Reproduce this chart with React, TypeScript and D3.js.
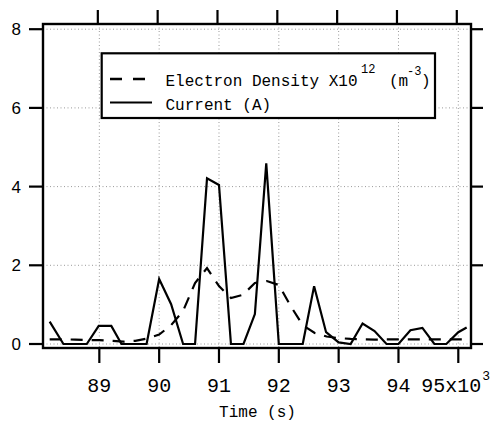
import React from "react";
import * as d3 from "d3";

const currentTime = [88.17, 88.4, 88.79, 88.99, 89.2, 89.37, 89.6, 89.79, 90.0, 90.2, 90.4, 90.6, 90.8, 91.0, 91.2, 91.41, 91.6, 91.79, 92.0, 92.2, 92.4, 92.59, 92.79, 93.0, 93.2, 93.4, 93.6, 93.8, 94.0, 94.2, 94.4, 94.6, 94.8, 95.0, 95.14];
const currentVal = [0.57, 0, 0, 0.46, 0.46, 0, 0, 0, 1.65, 1.01, 0, 0, 4.21, 4.04, 0, 0, 0.76, 4.59, 0, 0, 0, 1.47, 0.3, 0.04, 0, 0.52, 0.33, 0, 0, 0.35, 0.41, 0, 0, 0.3, 0.42];

const densityTime = [88.17, 88.4, 88.6, 88.8, 89.0, 89.2, 89.4, 89.6, 89.8, 90.0, 90.2, 90.4, 90.6, 90.8, 91.0, 91.2, 91.4, 91.6, 91.8, 92.0, 92.2, 92.4, 92.6, 92.8, 93.0, 93.2, 93.4, 93.6, 93.8, 94.0, 94.2, 94.4, 94.6, 94.8, 95.08];
const densityVal = [0.12, 0.12, 0.11, 0.1, 0.1, 0.08, 0.06, 0.08, 0.14, 0.24, 0.48, 0.84, 1.55, 1.93, 1.47, 1.17, 1.25, 1.55, 1.6, 1.5, 0.96, 0.48, 0.28, 0.19, 0.15, 0.13, 0.12, 0.11, 0.12, 0.12, 0.12, 0.12, 0.12, 0.12, 0.12];

const xTicks = [89, 90, 91, 92, 93, 94, 95];
const xTickLabels = ["89", "90", "91", "92", "93", "94", "95x10"];
const yTicks = [0, 2, 4, 6, 8];
const yTickLabels = ["0", "2", "4", "6", "8"];

const legendLabels = ["Electron Density X10", "Current (A)"];

export default function App() {
  const frame = { left: 43, top: 24, right: 471, bottom: 348 };
  const x = d3.scaleLinear().domain([88, 95]).range([39.5, 458.3]);
  const y = d3.scaleLinear().domain([0, 8]).range([344, 29.2]);

  const curData = currentTime.map((t, i) => [t, currentVal[i]] as [number, number]);
  const denData = densityTime.map((t, i) => [t, densityVal[i]] as [number, number]);
  const line = d3
    .line<[number, number]>()
    .x((d) => x(d[0]))
    .y((d) => y(d[1]));

  const mono = "'Liberation Mono', 'DejaVu Sans Mono', monospace";
  const sans = "'Liberation Sans', Arial, sans-serif";

  return (
    <svg
      width={492}
      height={422}
      style={{ position: "absolute", left: 0, top: 0, background: "#fff" }}
    >
      <rect x={0} y={0} width={492} height={422} fill="#fff" />
      {/* grid */}
      <g stroke="#9a9a9a" strokeWidth={1} strokeDasharray="1,2.5">
        {xTicks.map((t) => (
          <line key={"gx" + t} x1={x(t)} x2={x(t)} y1={frame.top} y2={frame.bottom} />
        ))}
        {yTicks.map((t) => (
          <line key={"gy" + t} x1={frame.left} x2={frame.right} y1={y(t)} y2={y(t)} />
        ))}
      </g>

      {/* data */}
      <path
        d={line(denData) || ""}
        fill="none"
        stroke="#000"
        strokeWidth={2.2}
        strokeDasharray="12,9"
      />
      <path
        d={line(curData) || ""}
        fill="none"
        stroke="#000"
        strokeWidth={2.2}
        strokeLinejoin="miter"
      />

      {/* frame */}
      <rect
        x={frame.left}
        y={frame.top}
        width={frame.right - frame.left}
        height={frame.bottom - frame.top}
        fill="none"
        stroke="#000"
        strokeWidth={2.4}
      />

      {/* ticks */}
      <g stroke="#000" strokeWidth={2.2}>
        {xTicks.map((t) => (
          <line key={"tb" + t} x1={x(t)} x2={x(t)} y1={frame.bottom} y2={frame.bottom + 15} />
        ))}
        {xTicks.map((t) => (
          <line key={"tt" + t} x1={x(t) - 1.5} x2={x(t) - 1.5} y1={frame.top} y2={frame.top - 14} />
        ))}
        {yTicks.map((t) => (
          <line key={"tl" + t} x1={frame.left - 14} x2={frame.left} y1={y(t)} y2={y(t)} />
        ))}
        {yTicks.map((t) => (
          <line key={"tr" + t} x1={frame.right} x2={frame.right + 12} y1={y(t)} y2={y(t)} />
        ))}
      </g>

      {/* y tick labels */}
      {yTicks.map((t, i) => (
        <text
          key={"yl" + t}
          x={21}
          y={y(t)}
          dy="0.36em"
          textAnchor="end"
          fontFamily={sans}
          fontSize={17}
          fill="#000"
        >
          {yTickLabels[i]}
        </text>
      ))}

      {/* x tick labels */}
      {xTicks.map((t, i) =>
        i < xTicks.length - 1 ? (
          <text
            key={"xl" + t}
            x={x(t)}
            y={392}
            textAnchor="middle"
            fontFamily={mono}
            fontSize={20}
            fill="#000"
          >
            {xTickLabels[i]}
          </text>
        ) : (
          <g key={"xl" + t}>
            <text
              x={x(t) + 23}
              y={392}
              textAnchor="end"
              fontFamily={mono}
              fontSize={20}
              fill="#000"
            >
              {xTickLabels[i]}
            </text>
            <text x={x(t) + 24} y={380} fontFamily={mono} fontSize={13} fill="#000">
              3
            </text>
          </g>
        )
      )}

      <text x={257.5} y={417} textAnchor="middle" fontFamily={mono} fontSize={16} fill="#000">
        Time (s)
      </text>

      {/* legend */}
      <rect x={101.7} y={53.3} width={333.3} height={64.7} fill="#fff" stroke="#000" strokeWidth={2.2} />
      <line x1={110} x2={146} y1={79} y2={79} stroke="#000" strokeWidth={2.4} strokeDasharray="12,11" />
      <line x1={110} x2={152} y1={102.5} y2={102.5} stroke="#000" strokeWidth={1.8} />
      <text x={165.5} y={86} fontFamily={mono} fontSize={16} fill="#000">
        {legendLabels[0]}
      </text>
      <text x={361} y={73} fontFamily={mono} fontSize={12} fill="#000">
        12
      </text>
      <text x={389} y={86} fontFamily={mono} fontSize={16} fill="#000">
        (m
      </text>
      <text x={407} y={75} fontFamily={mono} fontSize={12} fill="#000">
        -3
      </text>
      <text x={421} y={86} fontFamily={mono} fontSize={16} fill="#000">
        )
      </text>
      <text x={165.5} y={110} fontFamily={mono} fontSize={16} fill="#000">
        {legendLabels[1]}
      </text>
    </svg>
  );
}
